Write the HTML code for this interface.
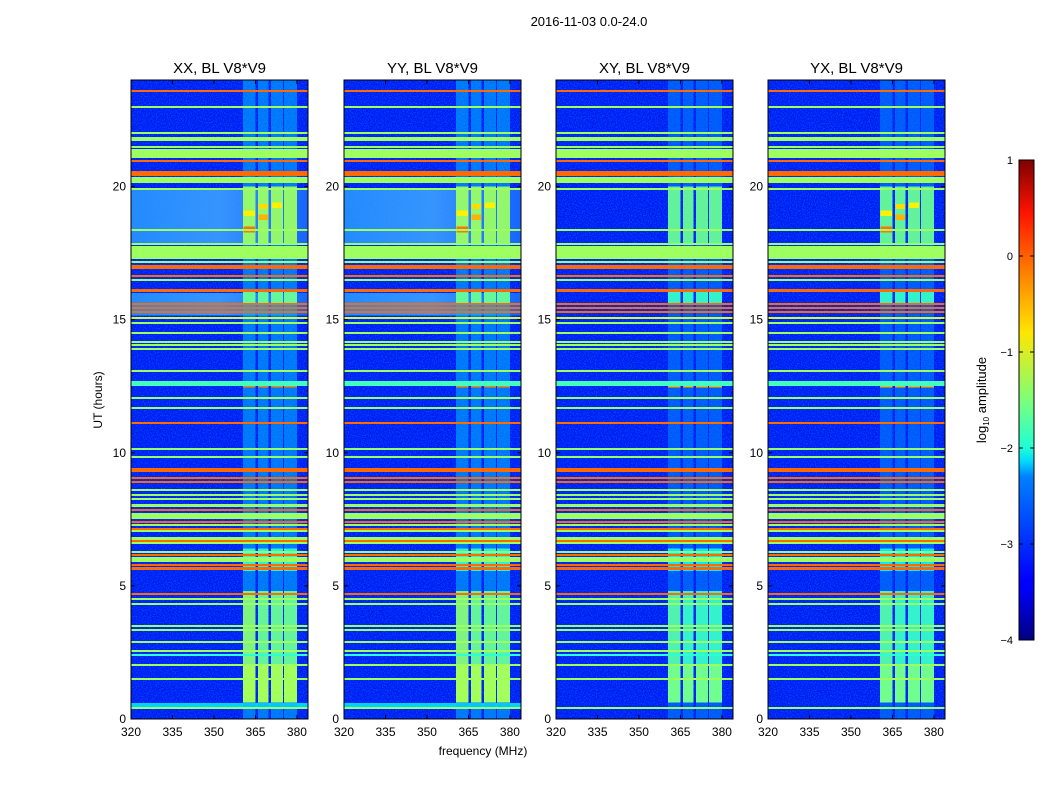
<!DOCTYPE html>
<html><head><meta charset="utf-8">
<style>
html,body{margin:0;padding:0;background:#fff;}
svg{display:block;font-family:"Liberation Sans",sans-serif;}
</style></head>
<body>
<svg id="fig" width="1050" height="800" viewBox="0 0 1050 800" xmlns="http://www.w3.org/2000/svg">
<defs>
<filter id="noise" x="0" y="0" width="100%" height="100%">
<feTurbulence type="fractalNoise" baseFrequency="0.95" numOctaves="2" seed="3"/>
<feColorMatrix type="matrix" values="0 0 0 0 0  0 0 0 0 0.0  0 0 0 0 0.5  0 0 0 -3 1.7"/>
</filter>
<filter id="noise2" x="0" y="0" width="100%" height="100%">
<feTurbulence type="fractalNoise" baseFrequency="0.85" numOctaves="2" seed="11"/>
<feColorMatrix type="matrix" values="0 0 0 0 0  0 0 0 0 0.5  0 0 0 0 1  0 0 0 -3 1.6"/>
</filter>
<linearGradient id="jetgrad" x1="0" y1="1" x2="0" y2="0">
<stop offset="0" stop-color="#00007f"/><stop offset="0.11" stop-color="#0000ff"/>
<stop offset="0.125" stop-color="#0000ff"/><stop offset="0.34" stop-color="#0080ff"/>
<stop offset="0.37" stop-color="#00d4ff"/><stop offset="0.4" stop-color="#1effd8"/>
<stop offset="0.5" stop-color="#7cff79"/><stop offset="0.64" stop-color="#ffe600"/>
<stop offset="0.75" stop-color="#ff8c00"/><stop offset="0.89" stop-color="#ff1300"/>
<stop offset="1" stop-color="#7f0000"/>
</linearGradient>
<linearGradient id="glowgrad" x1="0" y1="0" x2="1" y2="0">
<stop offset="0" stop-color="#2a9cff"/><stop offset="0.5" stop-color="#3fa8ff"/><stop offset="1" stop-color="#1c70ff"/>
</linearGradient>
</defs>
<text x="589" y="26" font-size="13" text-anchor="middle">2016-11-03 0.0-24.0</text>
<g id="panels"></g>
<text x="483" y="755" font-size="12" text-anchor="middle">frequency (MHz)</text>
<text x="102" y="400" font-size="12" text-anchor="middle" transform="rotate(-90 102 400)">UT (hours)</text>
<g>
<rect x="1019" y="160" width="15" height="480" fill="url(#jetgrad)" stroke="#000" stroke-width="1"/>
<g id="cbticks"></g>
<text x="986" y="400" font-size="13" text-anchor="middle" transform="rotate(-90 986 400)">log<tspan font-size="8" dy="3">10</tspan><tspan dy="-3"> amplitude</tspan></text>
</g>
</svg>
<script>
// ---- data ----
const panelTitles = ["XX, BL V8*V9","YY, BL V8*V9","XY, BL V8*V9","YX, BL V8*V9"];
const panelLefts = [131,344,556,768];
const xTicks = [320,335,350,365,380];
const yTicks = [0,5,10,15,20];
const cbTicks = [1,0,-1,-2,-3,-4];
// horizontal RFI bands: [startHour, endHour, log10 amplitude]
const bandStart = [23.56,22.98,21.98,21.70,21.46,21.05,20.92,20.37,20.16,19.90,18.35,17.80,17.31,17.16,16.98,16.90,16.60,16.46,16.06,15.57,15.43,15.27,15.04,14.84,14.49,14.14,14.04,13.88,13.04,12.48,12.05,11.64,11.11,10.10,9.80,9.38,9.29,9.04,8.89,8.53,8.39,8.24,7.97,7.83,7.52,7.38,7.25,7.12,7.02,6.58,6.70,6.26,6.13,5.90,5.78,5.61,4.69,4.50,4.31,3.47,3.32,2.88,2.55,2.40,2.01,1.47,0.38];
const bandEnd   = [23.62,23.04,22.04,21.85,21.52,21.39,20.98,20.57,20.37,19.96,18.41,17.86,17.78,17.22,17.04,16.96,16.66,16.52,16.16,15.63,15.49,15.33,15.10,14.90,14.55,14.20,14.10,13.94,13.10,12.68,12.11,11.70,11.17,10.16,9.86,9.44,9.35,9.10,8.95,8.62,8.45,8.30,8.09,7.90,7.74,7.44,7.31,7.18,7.08,6.84,6.74,6.32,6.19,6.09,5.84,5.71,4.75,4.56,4.37,3.53,3.38,2.94,2.60,2.46,2.07,1.53,0.44];
const bandLevel = [-0.15,-1.35,-1.35,-1.35,-1.35,-1.35,-0.15,-0.15,-1.35,-1.35,-1.35,-1.35,-1.35,-1.35,-0.15,-0.15,-0.15,-1.35,-0.15,-0.15,-0.15,-0.15,-1.1,-1.35,-1.35,-1.35,-1.35,-1.35,-1.35,-1.8,-1.35,-1.35,-0.15,-1.4,-1.4,-0.15,-0.15,-0.15,-0.15,-1.35,-1.35,-1.35,-1.35,-0.15,-1.35,-0.15,-1.35,-0.15,-1.35,-1.35,-0.15,-1.35,-0.15,-1.35,-0.15,-0.15,-0.15,-1.35,-1.35,-1.35,-1.35,-1.35,-1.35,-1.9,-1.35,-1.35,-1.35];
// light elevated background (XX/YY only)
const glowStart = [17.86,15.15,0.46];
const glowEnd   = [19.88,16.00,0.60];
const glowLevel = [-2.6,-2.6,-2.2];
// vertical RFI channel groups (MHz)
const colFreqStart = [360.5,366.0,370.6,375.3];
const colFreqEnd   = [365.1,369.8,374.9,380.0];
// time windows where channel groups are active
const colWinStart = [0,0.62,0.62,5.55,15.6,17.86,12.45];
const colWinEnd   = [24,4.8,2.0,6.4,16.1,20.0,12.55];
const colWinLevel = [-2.45,-1.6,-1.3,-1.9,-1.6,-1.35,-0.3];
// hot spots
const spotF0 = [360.6,366.1,366.1,371,360.6];
const spotF1 = [364.8,369.6,369.6,374.6,364.8];
const spotH0 = [18.28,18.75,19.15,19.2,18.9];
const spotH1 = [18.5,18.95,19.35,19.4,19.1];
const spotLevel = [-0.2,-0.5,-0.7,-0.8,-0.8];
const bgLevel = -3.2;

// ---- helpers ----
const NS="http://www.w3.org/2000/svg";
const PW=177, TOP=80, BOT=719;
function jet(v){
  const t=Math.max(0,Math.min(1,(v+4)/5));
  const c=x=>Math.round(255*Math.max(0,Math.min(1,x)));
  return `rgb(${c(1.5-Math.abs(4*t-3))},${c(1.5-Math.abs(4*t-2))},${c(1.5-Math.abs(4*t-1))})`;
}
function yH(h){return BOT-h*(BOT-TOP)/24;}
function mk(tag,attrs,parent){const e=document.createElementNS(NS,tag);for(const k in attrs)e.setAttribute(k,attrs[k]);parent.appendChild(e);return e;}

const root=document.getElementById('panels');
panelLefts.forEach((L,p)=>{
  const xF=f=>L+(f-320)*PW/64;
  const g=mk('g',{},root);
  
  
  const clipId='clip'+p;
  const cp=mk('clipPath',{id:clipId},g); mk('rect',{x:L,y:TOP,width:PW,height:BOT-TOP},cp);
  const plot=mk('g',{'clip-path':`url(#${clipId})`,'shape-rendering':'crispEdges'},g);
  const bg=mk('rect',{x:L,y:TOP,width:PW,height:BOT-TOP,fill:jet(bgLevel)},plot);
  
  
  mk('rect',{x:L,y:TOP,width:PW,height:BOT-TOP,filter:'url(#noise)',opacity:0.6},plot);
  mk('rect',{x:L,y:TOP,width:PW,height:BOT-TOP,filter:'url(#noise2)',opacity:0.35},plot);
  if(p<2){
    for(let i=0;i<glowStart.length;i++){
      const r=mk('rect',{x:L,y:yH(glowEnd[i]),width:PW,height:yH(glowStart[i])-yH(glowEnd[i]),fill:i<2?'url(#glowgrad)':jet(glowLevel[i]),opacity:0.85},plot);
      
      
    }
  }
  const off = p>=2 ? -0.25 : 0;
  for(let w=0;w<colWinStart.length;w++){
    for(let c=0;c<colFreqStart.length;c++){
      const r=mk('rect',{x:xF(colFreqStart[c]),y:yH(colWinEnd[w]),width:xF(colFreqEnd[c])-xF(colFreqStart[c]),height:yH(colWinStart[w])-yH(colWinEnd[w]),fill:jet(colWinLevel[w]+off+(c===0&&w===1?0.15:0)),opacity:w===0?0.55:0.92},plot);
      
      
    }
  }
  if(p!==2){
    for(let s=0;s<spotF0.length;s++){
      const r=mk('rect',{x:xF(spotF0[s]),y:yH(spotH1[s]),width:xF(spotF1[s])-xF(spotF0[s]),height:yH(spotH0[s])-yH(spotH1[s]),fill:jet(spotLevel[s])},plot);
      
      
    }
  }
  for(let b=0;b<bandStart.length;b++){
    const y0=Math.round(yH(bandEnd[b])), h=Math.max(2,Math.round(yH(bandStart[b])-yH(bandEnd[b])));
    const r=mk('rect',{x:L,y:y0,width:PW,height:h,fill:jet(bandLevel[b])},plot);
    
    
  }
  const fr=mk('rect',{x:L,y:TOP,width:PW,height:BOT-TOP,fill:'none',stroke:'#000','stroke-width':1},g);
  
  
  const t=mk('text',{x:L+PW/2,y:73,'font-size':15,'text-anchor':'middle'},g);
  t.textContent=panelTitles[p];
  
  
  xTicks.forEach(v=>{
    const x=xF(v);
    mk('line',{x1:x,x2:x,y1:BOT,y2:BOT-4,stroke:'#000'},g);
    mk('line',{x1:x,x2:x,y1:TOP,y2:TOP+4,stroke:'#000'},g);
    const tl=mk('text',{x:x,y:BOT+17,'font-size':12,'text-anchor':'middle'},g);
    tl.textContent=v;
    
    
  });
  yTicks.forEach(v=>{
    const y=yH(v);
    mk('line',{x1:L,x2:L+4,y1:y,y2:y,stroke:'#000'},g);
    mk('line',{x1:L+PW,x2:L+PW-4,y1:y,y2:y,stroke:'#000'},g);
    const tl=mk('text',{x:L-5,y:y+4,'font-size':12,'text-anchor':'end'},g);
    tl.textContent=v;
    
    
  });
});
const cbg=document.getElementById('cbticks');
cbTicks.forEach(v=>{
  const y=160+(1-v)*96;
  mk('line',{x1:1019,x2:1023,y1:y,y2:y,stroke:'#000'},cbg);
  mk('line',{x1:1034,x2:1030,y1:y,y2:y,stroke:'#000'},cbg);
  const tl=mk('text',{x:1013,y:y+4,'font-size':11,'text-anchor':'end'},cbg);
  tl.textContent=v<0?'\u2212'+(-v):String(v);
  
  
});
</script>
</body></html>
